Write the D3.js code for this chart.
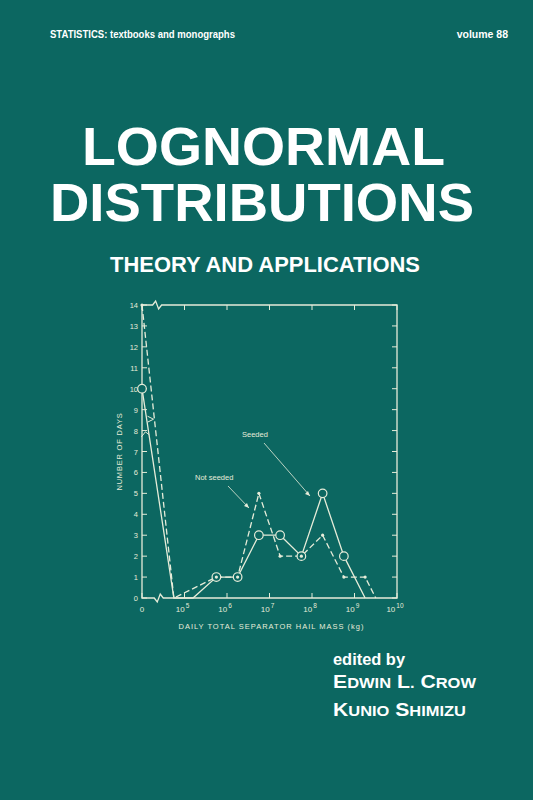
<!DOCTYPE html>
<html><head><meta charset="utf-8">
<script src="https://cdn.jsdelivr.net/npm/d3@7"></script>
<style>body{margin:0;background:#0c6761}svg{display:block}</style>
</head><body>
<script>
// x values are log10(mass in kg); 4 stands for the "0" at the broken axis
var seededX = [4, 4.75, 5.2, 5.75, 6.25, 6.75, 7.25, 7.75, 8.25, 8.75, 9.25];
var seededY = [10, 0, 0, 1, 1, 3, 3, 2, 5, 2, 0];
var seededMarks = [0, 3, 4, 5, 6, 7, 8, 9];
var notSeededX = [4, 4.75, 5.75, 6.25, 6.75, 7.25, 7.75, 8.25, 8.75, 9.25, 9.5];
var notSeededY = [14, 0, 1, 1, 5, 2, 2, 3, 1, 1, 0];
var notSeededMarks = [0, 2, 3, 4, 5, 6, 7, 8, 9];
var yTicks = d3.range(0, 15);
var xTicks = [4, 5, 6, 7, 8, 9, 10];

var W = 533, H = 800, ink = '#e6ecd9';
var svg = d3.select('body').append('svg').attr('width', W).attr('height', H);
svg.append('rect').attr('width', W).attr('height', H).attr('fill', '#0c6761');

function txt(s, x, y, size, opts) {
  opts = opts || {};
  var t = svg.append('text').attr('x', x).attr('y', y).attr('fill', opts.fill || '#fff')
    .attr('font-family', 'Liberation Sans, Arial, sans-serif').attr('font-size', size)
    .attr('font-weight', opts.weight || 'bold').attr('text-anchor', opts.anchor || 'start').text(s);
  if (opts.len) t.attr('textLength', opts.len).attr('lengthAdjust', 'spacingAndGlyphs');
  if (opts.ls) t.attr('letter-spacing', opts.ls);
  return t;
}

txt('STATISTICS: textbooks and monographs', 50, 38, 10.5, {len: 185});
txt('volume 88', 508, 38, 10.5, {anchor: 'end'});
txt('LOGNORMAL', 82, 165, 53, {len: 363});
txt('DISTRIBUTIONS', 50, 221, 53, {len: 424});
txt('THEORY AND APPLICATIONS', 110, 272, 22, {len: 310});
txt('edited by', 333, 665, 17, {len: 72});
function smallCaps(words, x, y, len) {
  var t = txt('', x, y, 18, {len: len});
  words.forEach(function(w, i) {
    t.append('tspan').attr('font-size', 18).text((i ? ' ' : '') + w[0]);
    t.append('tspan').attr('font-size', 14).text(w.slice(1).toUpperCase());
  });
}
smallCaps(['Edwin', 'L.', 'Crow'], 333, 688, 143);
smallCaps(['Kunio', 'Shimizu'], 333, 716, 133);

var L = 142, R = 397, T = 305, B = 598;
var x = d3.scaleLinear().domain([4, 10]).range([L, R]);
var y = d3.scaleLinear().domain([0, 14]).range([B, T]);
var g = svg.append('g').attr('stroke', ink).attr('fill', 'none').attr('stroke-width', 1);

// frame with breaks
g.append('path').attr('d', 'M' + L + ',' + T + 'H' + (x(4.25)) + 'l3,-4l3,8l3,-4H' + R + 'V' + B +
  'H' + x(4.5) + 'l-3,-4l-3,8l-3,-4H' + L + 'Z').attr('stroke-width', 1.3);

yTicks.forEach(function(v) {
  g.append('line').attr('x1', L).attr('x2', L + 5).attr('y1', y(v)).attr('y2', y(v));
  g.append('line').attr('x1', R).attr('x2', R - 5).attr('y1', y(v)).attr('y2', y(v));
  txt(String(v), L - 4, y(v) + 3, 7.5, {anchor: 'end', weight: 'normal', fill: ink});
});
xTicks.forEach(function(v, i) {
  g.append('line').attr('x1', x(v)).attr('x2', x(v)).attr('y1', B).attr('y2', B - 5);
  g.append('line').attr('x1', x(v)).attr('x2', x(v)).attr('y1', T).attr('y2', T + 5);
  if (i === 0) txt('0', x(v), B + 14, 8, {anchor: 'middle', weight: 'normal', fill: ink});
  else {
    var t = txt('10', x(v) - 2, B + 14, 8, {anchor: 'middle', weight: 'normal', fill: ink});
    t.append('tspan').attr('dy', -4).attr('dx', 1).attr('font-size', 6.5).text(v);
  }
});
txt('NUMBER OF DAYS', 0, 0, 7.5, {weight: 'normal', fill: ink, anchor: 'middle', ls: 0.8})
  .attr('transform', 'translate(' + (L - 20) + ',' + y(7) + ') rotate(-90)');
txt('DAILY TOTAL SEPARATOR HAIL MASS (kg)', (L + R) / 2 + 2, B + 31, 7.5, {weight: 'normal', fill: ink, anchor: 'middle', ls: 1});

var line = d3.line().x(function(d) { return x(d[0]); }).y(function(d) { return y(d[1]); });
var seeded = seededX.map(function(v, i) { return [v, seededY[i]]; });
var notSeeded = notSeededX.map(function(v, i) { return [v, notSeededY[i]]; });
g.append('path').attr('d', line(seeded)).attr('stroke-width', 1.3);
g.append('path').attr('d', line(notSeeded)).attr('stroke-width', 1.3).attr('stroke-dasharray', '6,3');
// breaks on the curves near the zero axis
svg.append('path').attr('d', 'M' + (x(4.08) - 4) + ',' + y(7.7) + 'l4,-5l4,3').attr('stroke', ink).attr('fill', 'none');
svg.append('path').attr('d', 'M' + (x(4.2) - 3) + ',' + y(8.4) + 'l6,-3l-6,-3').attr('stroke', ink).attr('fill', 'none');

seededMarks.forEach(function(i) {
  svg.append('circle').attr('cx', x(seededX[i])).attr('cy', y(seededY[i])).attr('r', 4.3)
    .attr('fill', '#0c6761').attr('stroke', ink).attr('stroke-width', 1.2);
});
notSeededMarks.forEach(function(i) {
  svg.append('circle').attr('cx', x(notSeededX[i])).attr('cy', y(notSeededY[i])).attr('r', 1.6).attr('fill', ink);
});

// annotations
txt('Seeded', 242, 437, 7.5, {weight: 'normal', fill: ink});
txt('Not seeded', 195, 480, 7.5, {weight: 'normal', fill: ink});
svg.append('line').attr('x1', 264).attr('y1', 443).attr('x2', 310).attr('y2', 496).attr('stroke', ink).attr('stroke-width', 0.8);
svg.append('line').attr('x1', 228).attr('y1', 486).attr('x2', 249).attr('y2', 508).attr('stroke', ink).attr('stroke-width', 0.8);
svg.append('path').attr('d', 'M310,496l-5,-2l3,-3z').attr('fill', ink);
svg.append('path').attr('d', 'M249,508l-5,-2l3,-3z').attr('fill', ink);
</script>
</body></html>
